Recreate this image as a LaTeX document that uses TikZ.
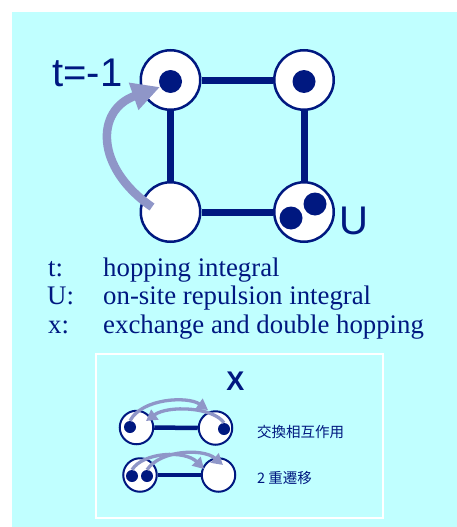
\documentclass[tikz,border=0pt]{standalone}
\usepackage{fontspec}
\setmainfont{Liberation Serif}
\setsansfont{Liberation Sans}
\newfontfamily\jpfont{Noto Sans CJK JP}
\usetikzlibrary{arrows.meta}
\definecolor{navy}{RGB}{0,24,128}
\definecolor{aqua}{RGB}{192,255,255}
\definecolor{lilac}{RGB}{143,150,200}
\tikzset{
  site/.style={circle,draw=navy,fill=white,line width=2.5pt,minimum size=59.5pt,inner sep=0pt},
  minisite/.style={circle,draw=navy,fill=white,line width=2pt,minimum size=33.5pt,inner sep=0pt},
  bond/.style={navy,line width=7pt},
  minibond/.style={navy,line width=4.5pt},
  electron/.style={circle,fill=navy,minimum size=23pt,inner sep=0pt},
  minielectron/.style={circle,fill=navy,minimum size=12pt,inner sep=0pt},
  hop/.style={lilac,line width=8.5pt,-{Triangle[length=28pt,width=27pt]}},
  minihop/.style={lilac,line width=3.3pt,-{Triangle[length=11pt,width=12pt]}},
  legend/.style={navy,font=\fontsize{26.8}{28}\selectfont,anchor=base west,inner sep=0pt},
  biglabel/.style={navy,font=\sffamily\fontsize{40}{40}\selectfont,anchor=base west,inner sep=0pt},
  jplabel/.style={navy,font=\jpfont\fontsize{14.5}{15}\selectfont,anchor=west,inner sep=0pt}
}
\begin{document}
\begin{tikzpicture}[x=1pt,y=-1pt]
\useasboundingbox (0,0) rectangle (457,527);
\fill[aqua] (12,12) rectangle (457,527);

% square of four sites
\node[site] (s1) at (170.5,80) {};
\node[site] (s2) at (304,80) {};
\node[site] (s3) at (170.5,212) {};
\node[site] (s4) at (304,212) {};
\draw[bond] (s1) -- (s2);
\draw[bond] (s2) -- (s4);
\draw[bond] (s4) -- (s3);
\draw[bond] (s3) -- (s1);
\node[electron] (d1) at (170.5,81.5) {};
\node[electron] (d2) at (304,81.5) {};
\node[electron] (d3) at (315,204) {};
\node[electron] (d4) at (291,218) {};

% hopping arrow
\coordinate (tail) at (152,207);
\coordinate (head) at (160,87);
\draw[hop] (tail) .. controls (95,168) and (95,110) .. (head);

\node[biglabel] (tlabel) at (52,86) {t=-1};
\node[biglabel] (ulabel) at (339,234) {U};

% legend
\node[legend] (k1) at (48,276) {t:};
\node[legend] (v1) at (103,276) {hopping integral};
\node[legend] (k2) at (47,304.5) {U:};
\node[legend] (v2) at (103,304.5) {on-site repulsion integral};
\node[legend] (k3) at (48,333) {x:};
\node[legend] (v3) at (103,333) {exchange and double hopping};

% box for x
\draw[white,line width=2pt] (96,354) rectangle (383,518);
\node[navy,font=\sffamily\bfseries\fontsize{27}{27}\selectfont,anchor=base] (xlabel) at (235.5,390) {X};

% exchange
\node[minisite] (a1) at (136.5,427.5) {};
\node[minisite] (a2) at (215.5,428) {};
\draw[minibond] (a1) -- (a2);
\node[minielectron] (ea) at (130,427) {};
\node[minielectron] (eb) at (224,429) {};
\coordinate (ta) at (208,410);
\coordinate (tb) at (146,421);
\draw[minihop] (ea.north) .. controls (142,398) and (188,396) .. (ta);
\draw[minihop] (eb.north) .. controls (213,407) and (168,405) .. (tb);
\node[jplabel] (exch) at (257,432) {交換相互作用};

% double hopping
\node[minisite] (b1) at (140,475) {};
\node[minisite] (b2) at (218.5,475) {};
\draw[minibond] (b1) -- (b2);
\node[minielectron] (fa) at (132,476) {};
\node[minielectron] (fb) at (147,476) {};
\coordinate (tc) at (204,469);
\coordinate (td) at (223,465);
\draw[minihop] (fa.north) .. controls (143,452) and (185,450) .. (tc);
\draw[minihop] (fb.north) .. controls (160,450) and (203,448) .. (td);
\node[jplabel] (dbl) at (257,478) {2 重遷移};
\end{tikzpicture}
\end{document}
